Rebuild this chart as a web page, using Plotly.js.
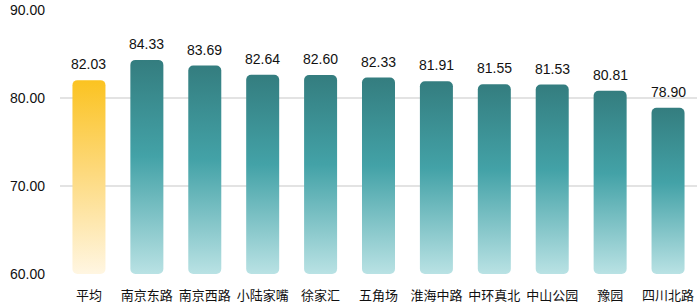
<!DOCTYPE html>
<html><head><meta charset="utf-8">
<script src="https://cdn.plot.ly/plotly-3.0.1.min.js"></script>
<style>html,body{margin:0;padding:0;background:#fff}#chart{width:700px;height:307px}</style>
</head><body><div id="chart"></div>
<script>
const categories = ["平均","南京东路","南京西路","小陆家嘴","徐家汇","五角场","淮海中路","中环真北","中山公园","豫园","四川北路"];
const values = [82.03,84.33,83.69,82.64,82.60,82.33,81.91,81.55,81.53,80.81,78.90];
const yTicks = [60,70,80,90];
const yTickText = ["60.00","70.00","80.00","90.00"];
const baseValue = 60;

const trace = {
  type: 'bar',
  x: categories,
  y: values.map(v => v - baseValue),
  base: baseValue,
  width: 0.57,
  marker: {color: categories.map((c,i)=> i===0 ? '#fcc62c' : '#3f9ea2'), cornerradius: 5,
           line: {width: 0}},
  hoverinfo: 'none'
};
const annotations = categories.map((c,i)=>({
  x: c, y: values[i], xref:'x', yref:'y', text: values[i].toFixed(2),
  showarrow:false, yanchor:'bottom', yshift: 6,
  font:{family:'Liberation Sans, Arial, sans-serif', size:14, color:'#111'}
}));
const layout = {
  width:700, height:307,
  margin:{l:60,r:3,t:10,b:33},
  paper_bgcolor:'#fff', plot_bgcolor:'#fff',
  showlegend:false,
  bargap:0.43,
  xaxis:{type:'category', showgrid:false, showline:false, ticks:'', zeroline:false, ticklabelstandoff:12, tickangle:0,
    tickfont:{family:'Noto Sans CJK SC, sans-serif', size:13, color:'#111'}},
  yaxis:{range:[60,90], tickvals:yTicks, ticktext:yTickText, showgrid:true, gridcolor:'#e3e3e3', gridwidth:1.5,
    zeroline:false, showline:false, ticks:'', ticklabelstandoff:14,
    tickfont:{family:'Liberation Sans, Arial, sans-serif', size:14, color:'#111'}},
  annotations: annotations
};
Plotly.newPlot('chart',[trace],layout,{staticPlot:true}).then(gd=>{
  const svg = gd.querySelector('svg.main-svg');
  const NS='http://www.w3.org/2000/svg';
  let defs = svg.querySelector('defs');
  function grad(id, stops){
    const g=document.createElementNS(NS,'linearGradient');
    g.setAttribute('id',id); g.setAttribute('x1','0'); g.setAttribute('y1','0'); g.setAttribute('x2','0'); g.setAttribute('y2','1');
    stops.forEach(s=>{const st=document.createElementNS(NS,'stop'); st.setAttribute('offset',s[0]); st.setAttribute('stop-color',s[1]); g.appendChild(st);});
    defs.appendChild(g);
  }
  grad('gTeal',[[0,'#347d7f'],[0.45,'#43a2a7'],[1,'#b9e2e4']]);
  grad('gGold',[[0,'#fbc321'],[0.45,'#fdd878'],[1,'#fff6e2']]);
  gd.querySelectorAll('.bars .point path').forEach((p,i)=>{
    p.style.fill = i===0 ? 'url(#gGold)' : 'url(#gTeal)';
  });
});
</script></body></html>
